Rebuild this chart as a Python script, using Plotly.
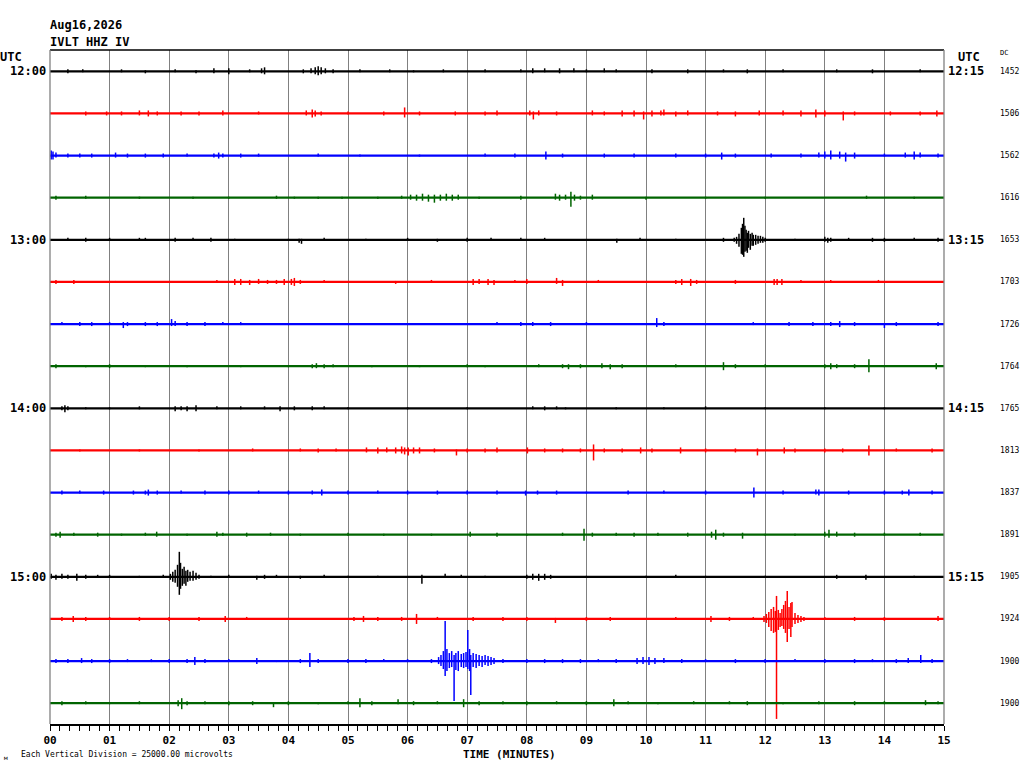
import plotly.graph_objects as go

# helicorder: 16 rows of 15 minutes, IVLT HHZ IV
row_colors = ["black", "red", "blue", "#006400"]
left_labels = {0: "12:00", 4: "13:00", 8: "14:00", 12: "15:00"}
right_labels = {0: "12:15", 4: "13:15", 8: "14:15", 12: "15:15"}
dc_values = [1452, 1506, 1562, 1616, 1653, 1703, 1726, 1764,
             1765, 1813, 1837, 1891, 1905, 1924, 1900, 1900]
tick_minutes = list(range(16))
tick_text = ["%02d" % m for m in tick_minutes]

# deflections per row: (minute, up, down), up/down in 1/42 of a vertical division
events = [
    [(0.3,2,2),(0.55,2,1),(1.2,2,1),(1.6,1,2),(2.1,2,1),(2.45,1,2),(2.75,3,2),(3.0,3,3),(3.35,2,1),
     (3.55,3,2),(3.6,4,3),(4.25,2,2),(4.38,3,2),(4.45,4,3),(4.5,5,4),(4.55,4,3),(4.62,3,2),(4.75,2,2),
     (5.2,2,1),(5.7,2,1),(6.1,1,1),(6.6,2,1),(7.3,2,1),(7.9,2,1),(8.1,3,2),(8.3,3,1),(8.55,3,2),
     (8.79,3,1),(9.0,2,1),(9.3,3,1),(9.5,2,1),(10.1,2,2),(10.7,2,2),(11.3,2,1),(11.7,2,2),(12.3,2,1),
     (13.2,2,1),(13.8,2,2),(14.6,2,1)],
    [(0.6,2,2),(0.95,2,2),(1.2,2,2),(1.5,3,2),(1.65,3,3),(1.8,2,2),(2.2,2,2),(2.5,2,2),(2.9,3,2),
     (3.5,2,1),(4.3,3,2),(4.4,4,4),(4.45,3,3),(4.55,2,2),(5.0,2,1),(5.6,2,2),(5.95,6,4),(6.2,2,2),
     (6.8,2,2),(7.3,2,2),(7.5,3,2),(8.05,3,2),(8.11,2,6),(8.2,3,2),(8.5,2,2),(9.1,3,2),(9.3,2,2),
     (9.6,3,3),(9.8,3,3),(9.96,2,6),(10.1,3,3),(10.25,3,2),(10.3,4,2),(10.5,2,3),(10.7,3,2),
     (11.2,2,2),(11.5,2,3),(11.9,3,2),(12.3,3,2),(12.6,3,3),(12.85,4,4),(13.0,3,3),(13.31,2,7),
     (13.5,2,2),(14.1,2,2),(14.6,2,2),(14.88,3,3)],
    [(0.02,5,4),(0.05,4,4),(0.1,3,2),(0.3,2,2),(0.5,2,2),(0.7,2,2),(1.1,3,2),(1.3,2,2),(1.6,2,2),
     (1.9,2,2),(2.3,2,1),(2.75,2,2),(2.83,3,3),(2.9,2,2),(3.2,2,2),(3.5,2,1),(4.5,2,1),(5.2,1,1),
     (6.2,1,1),(7.3,2,1),(7.8,2,2),(8.32,4,4),(8.6,2,2),(9.3,2,2),(9.8,2,2),(10.5,2,2),(11.0,2,2),
     (11.27,3,4),(11.5,2,2),(12.1,2,2),(12.6,2,2),(12.9,3,2),(13.0,4,3),(13.1,5,4),(13.25,4,3),
     (13.35,3,6),(13.5,3,3),(14.0,2,1),(14.35,3,2),(14.5,4,4),(14.6,3,2),(14.9,2,2)],
    [(0.1,2,2),(0.6,2,1),(1.5,1,1),(2.4,1,1),(3.0,1,1),(3.8,2,1),(4.1,1,1),(4.5,1,1),(4.9,1,1),
     (5.5,1,1),(5.9,2,1),(6.05,3,2),(6.15,3,3),(6.25,4,3),(6.35,3,4),(6.45,3,5),(6.55,3,3),(6.65,4,3),
     (6.75,3,3),(6.85,3,2),(7.2,1,1),(7.9,2,2),(8.48,4,2),(8.55,3,3),(8.65,3,2),(8.74,6,9),(8.8,3,3),
     (8.9,2,2),(9.1,3,2),(10.0,1,2),(11.0,1,1),(12.0,1,1),(13.7,2,1),(14.5,1,1)],
    [(0.3,2,1),(0.6,2,2),(1.0,2,1),(1.5,2,1),(1.6,2,1),(2.1,2,2),(2.4,2,1),(2.7,2,2),(3.1,1,1),
     (4.0,1,1),(4.18,1,3),(4.22,1,4),(4.6,2,1),(5.3,1,1),(6.0,2,1),(6.5,1,2),(7.0,2,2),(7.4,2,1),
     (7.9,2,1),(8.3,2,1),(9.51,1,3),(9.9,2,1),(10.5,1,1),(11.3,2,2),(11.48,2,2),(11.52,3,4),
     (11.56,6,7),(11.6,12,14),(11.62,16,15),(11.64,22,17),(11.66,14,12),(11.68,10,11),(11.7,7,13),
     (11.72,9,8),(11.75,6,10),(11.78,7,6),(11.8,5,6),(11.84,5,5),(11.88,4,4),(11.92,4,3),(11.96,3,3),
     (12.0,2,2),(12.5,1,1),(13.0,3,2),(13.05,2,3),(13.1,2,2),(13.4,2,1),(13.8,2,2),(14.0,2,2),
     (14.5,2,1),(14.9,2,2)],
    [(0.1,2,2),(0.4,2,2),(1.1,1,1),(2.0,1,1),(2.8,2,1),(3.1,3,3),(3.2,3,3),(3.35,2,3),(3.5,3,2),
     (3.65,2,2),(3.8,2,2),(3.93,3,3),(4.05,3,3),(4.1,4,4),(4.2,2,2),(4.6,2,1),(5.1,1,1),(5.8,1,2),
     (6.4,2,1),(7.1,3,3),(7.2,3,2),(7.35,3,3),(7.45,2,3),(7.8,2,1),(8.0,3,2),(8.5,4,2),(8.6,2,4),
     (9.2,2,1),(9.8,1,1),(10.5,2,2),(10.6,3,3),(10.75,3,4),(10.85,2,2),(11.5,2,2),(12.15,3,3),
     (12.2,3,3),(12.28,3,3),(12.6,2,1),(13.1,2,1),(13.9,2,1),(14.5,1,1)],
    [(0.2,2,1),(0.5,2,2),(0.7,2,2),(1.0,2,1),(1.23,2,4),(1.3,2,2),(1.6,2,2),(1.8,2,2),(2.04,5,2),
     (2.1,3,2),(2.3,2,2),(2.6,2,2),(2.9,2,1),(3.2,2,1),(4.0,1,1),(5.0,1,1),(6.0,1,1),(7.0,1,1),
     (7.5,2,1),(7.9,2,2),(8.1,2,2),(8.4,2,2),(9.0,2,1),(10.18,6,3),(10.3,2,2),(11.0,1,1),(11.8,2,1),
     (12.4,2,2),(12.8,2,2),(13.1,2,2),(13.25,3,3),(13.5,2,2),(14.0,1,4),(14.2,2,2),(14.9,2,2)],
    [(0.1,2,2),(0.6,1,1),(1.0,2,2),(1.6,1,1),(2.3,1,1),(3.2,1,1),(4.0,1,1),(4.4,2,2),(4.47,3,2),
     (4.6,2,2),(4.75,2,1),(5.4,1,1),(6.2,1,1),(7.0,2,1),(7.3,1,1),(8.2,2,1),(8.6,2,2),(8.7,2,3),
     (8.9,2,2),(9.26,3,2),(9.4,2,3),(9.6,2,2),(10.5,2,1),(11.3,4,4),(11.5,2,2),(12.0,2,1),(13.0,2,2),
     (13.1,3,3),(13.2,2,2),(13.5,2,2),(13.74,7,6),(14.0,1,1),(14.87,3,3)],
    [(0.2,2,2),(0.25,3,4),(0.3,2,2),(0.6,1,1),(1.0,1,1),(1.5,2,1),(2.1,2,3),(2.2,2,2),(2.3,2,3),
     (2.45,3,3),(2.8,2,1),(3.2,2,1),(3.6,2,1),(3.86,2,3),(4.1,2,2),(4.4,2,2),(4.6,2,1),(5.0,1,1),
     (6.0,1,1),(7.0,1,1),(8.1,2,1),(8.3,2,2),(8.5,2,1),(8.65,1,1),(9.5,1,1),(10.3,1,1),(11.0,2,1),
     (12.0,1,1),(13.0,1,1),(14.0,1,1)],
    [(0.5,1,1),(1.5,1,1),(2.5,1,1),(3.4,2,1),(4.2,2,1),(4.5,2,2),(4.8,2,1),(5.31,3,2),(5.5,3,3),
     (5.65,3,2),(5.8,3,3),(5.9,4,3),(5.95,3,4),(6.01,3,5),(6.1,3,3),(6.2,3,3),(6.45,2,2),(6.82,1,5),
     (7.0,2,2),(7.3,2,2),(7.5,3,2),(8.01,3,3),(8.3,2,2),(8.6,2,2),(8.9,2,2),(9.12,6,10),(9.3,2,2),
     (9.6,2,2),(9.91,3,3),(10.1,2,2),(10.58,3,3),(11.0,2,2),(11.5,2,2),(11.87,2,5),(12.32,3,3),
     (12.5,2,2),(13.0,2,2),(13.3,2,2),(13.74,5,5),(14.2,2,1),(14.8,2,2)],
    [(0.2,2,2),(0.5,2,1),(0.9,2,2),(1.4,2,2),(1.6,2,2),(1.65,3,3),(1.8,2,2),(2.2,2,1),(2.6,2,2),
     (3.0,2,2),(3.5,2,1),(4.0,2,2),(4.4,2,2),(4.56,3,3),(5.0,2,2),(5.5,2,1),(6.0,2,2),(6.5,2,2),
     (7.0,2,2),(7.5,2,2),(7.98,2,3),(8.18,2,2),(8.5,2,2),(9.0,1,1),(9.7,2,2),(10.3,2,1),(11.0,2,2),
     (11.81,5,5),(12.3,2,2),(12.85,3,2),(12.9,3,3),(13.4,2,2),(14.0,2,2),(14.3,2,2),(14.41,3,3),
     (14.8,2,2)],
    [(0.1,2,2),(0.17,3,3),(0.4,2,1),(0.8,2,2),(1.2,1,1),(1.6,2,1),(1.79,3,2),(2.3,1,1),(2.8,3,2),
     (2.9,2,1),(3.3,2,2),(3.7,2,1),(4.2,1,1),(5.0,2,1),(5.6,1,1),(6.4,1,1),(7.05,3,2),(7.5,2,2),
     (8.0,1,1),(8.6,2,1),(8.96,6,6),(9.1,2,2),(9.5,2,1),(9.8,2,2),(10.2,2,1),(10.7,2,2),(11.1,3,3),
     (11.17,5,5),(11.3,2,2),(11.62,2,4),(12.0,1,1),(12.5,1,1),(13.0,3,2),(13.07,5,3),(13.2,3,2),
     (13.5,2,2),(14.0,2,1),(14.6,2,1)],
    [(0.02,3,2),(0.1,2,3),(0.2,3,2),(0.3,2,2),(0.45,3,4),(0.6,2,2),(0.8,2,1),(1.0,2,1),(1.5,1,1),
     (1.9,2,1),(2.02,3,3),(2.06,5,5),(2.1,7,6),(2.14,12,10),(2.17,25,18),(2.19,14,12),(2.22,8,9),
     (2.25,10,7),(2.28,6,9),(2.31,7,5),(2.35,5,4),(2.4,6,4),(2.45,4,3),(2.5,2,2),(2.7,1,1),(3.0,2,1),
     (3.47,1,3),(3.6,2,2),(3.8,2,1),(4.2,1,2),(4.6,2,1),(5.0,1,1),(5.5,1,1),(6.24,2,7),(6.63,3,1),
     (6.9,2,1),(7.3,1,1),(8.0,2,2),(8.1,3,3),(8.2,3,4),(8.3,3,3),(8.4,2,2),(9.0,1,1),(10.0,1,1),
     (10.5,2,1),(11.0,1,1),(12.0,1,1),(13.2,2,2),(13.69,2,3),(14.5,1,1)],
    [(0.2,2,2),(0.39,3,3),(0.6,2,2),(1.0,2,1),(1.5,2,2),(2.0,2,2),(2.5,2,2),(2.94,3,3),(3.3,2,1),
     (4.0,1,1),(5.1,2,2),(5.26,3,3),(5.5,2,2),(5.9,2,2),(6.15,5,5),(6.5,2,1),(7.1,2,2),(7.6,2,2),
     (8.0,2,2),(8.48,1,4),(9.0,2,2),(9.4,2,2),(10.0,1,1),(10.5,2,1),(11.09,3,3),(11.4,2,2),
     (11.8,2,1),(11.98,3,3),(12.02,5,4),(12.06,7,8),(12.1,10,12),(12.14,12,14),(12.17,8,13),
     (12.19,23,100),(12.22,9,11),(12.25,6,8),(12.28,10,7),(12.31,14,10),(12.34,18,14),(12.37,28,23),
     (12.4,12,10),(12.43,16,18),(12.45,17,8),(12.5,6,5),(12.55,4,4),(12.6,3,3),(12.65,2,2),
     (13.0,2,1),(13.5,2,2),(14.0,2,2),(14.9,3,2)],
    [(0.1,2,2),(0.3,2,2),(0.53,3,2),(0.7,2,2),(1.0,2,2),(1.3,2,1),(1.7,2,1),(2.0,2,2),(2.3,2,2),
     (2.43,4,4),(2.6,2,2),(3.0,2,1),(3.47,3,3),(3.8,1,1),(4.2,2,2),(4.36,8,6),(4.5,2,2),(5.0,2,2),
     (5.3,2,2),(5.6,2,1),(6.0,2,1),(6.4,2,2),(6.52,4,3),(6.56,6,5),(6.6,10,8),(6.63,40,15),
     (6.66,12,10),(6.7,8,7),(6.74,10,6),(6.78,6,40),(6.81,8,9),(6.85,10,10),(6.9,7,6),(6.94,8,7),
     (6.98,9,6),(7.01,31,8),(7.04,12,10),(7.06,6,34),(7.1,8,6),(7.15,7,7),(7.2,6,5),(7.25,5,6),
     (7.3,6,4),(7.35,5,5),(7.4,4,4),(7.45,3,3),(7.6,2,2),(8.0,2,2),(8.3,2,2),(8.6,2,2),(8.9,2,2),
     (9.2,2,1),(9.5,2,2),(9.85,3,3),(9.95,4,3),(10.05,4,4),(10.15,3,3),(10.3,3,2),(10.6,2,2),
     (11.0,2,1),(11.5,2,2),(12.0,2,2),(12.5,2,1),(13.0,2,2),(13.5,2,2),(13.8,2,1),(14.2,2,2),
     (14.4,3,2),(14.61,6,2),(14.8,2,2)],
    [(0.2,2,2),(0.6,2,1),(1.0,1,1),(1.5,2,1),(2.15,3,3),(2.21,5,6),(2.3,2,2),(2.6,2,1),(3.0,2,2),
     (3.4,2,2),(3.75,1,4),(4.0,2,2),(4.5,1,1),(5.0,2,1),(5.2,5,4),(5.4,2,2),(5.84,4,1),(6.1,2,2),
     (6.5,2,1),(6.94,4,4),(7.2,2,2),(7.6,2,1),(8.0,2,2),(8.5,2,1),(9.0,2,2),(9.46,4,3),(9.7,2,1),
     (10.2,1,1),(10.8,2,1),(11.4,2,1),(11.7,2,2),(12.3,1,1),(12.9,2,1),(13.5,2,2),(14.0,2,1),
     (14.69,3,2),(14.9,2,1)],
]

AMP = 1 / 42.13   # one unit of deflection in vertical divisions
MONO = "DejaVu Sans Mono"

# plot area in pixels: x 50..944, y 50..724
L, R, T, B = 50, 944, 50, 724
def px(x):
    return (x - L) / (R - L)
def py(y):
    return (B - y) / (B - T)

fig = go.Figure()

for i, ev in enumerate(events):
    c = row_colors[i % 4]
    fig.add_trace(go.Scatter(x=[0, 15], y=[-i, -i], mode="lines",
                             line=dict(color=c, width=2.2), hoverinfo="skip"))
    fig.add_trace(go.Scatter(
        x=[e[0] for e in ev], y=[-i] * len(ev), mode="markers",
        marker=dict(size=1, color=c),
        error_y=dict(type="data", symmetric=False,
                     array=[e[1] * AMP for e in ev],
                     arrayminus=[e[2] * AMP for e in ev],
                     color=c, thickness=1.5, width=0),
        hoverinfo="skip"))

ann = []
for i, lab in left_labels.items():
    ann.append(dict(x=px(48), xref="paper", y=-i, yref="y", text="<b>%s</b>" % lab,
                    xanchor="right", yanchor="middle", showarrow=False,
                    font=dict(family=MONO, size=12)))
for i, lab in right_labels.items():
    ann.append(dict(x=px(946), xref="paper", y=-i, yref="y", text="<b>%s</b>" % lab,
                    xanchor="left", yanchor="middle", showarrow=False,
                    font=dict(family=MONO, size=12)))
for i, v in enumerate(dc_values):
    ann.append(dict(x=px(998), xref="paper", y=-i, yref="y", text=str(v),
                    xanchor="left", yanchor="middle", showarrow=False,
                    font=dict(family=MONO, size=8)))

def text_at(x, y, s, size, anchor="left", bold=True):
    ann.append(dict(x=px(x), xref="paper", y=py(y), yref="paper",
                    text="<b>%s</b>" % s if bold else s,
                    xanchor=anchor, yanchor="middle", showarrow=False,
                    font=dict(family=MONO, size=size)))

text_at(48, 25, "Aug16,2026", 12)
text_at(48, 42, "IVLT HHZ IV", 12)
text_at(-2, 57, "UTC", 12)
text_at(956, 57, "UTC", 12)
text_at(998, 53, "DC", 7, bold=False)
text_at(509, 754, "TIME (MINUTES)", 11, anchor="center")
text_at(19, 754, "Each Vertical Division = 25000.00 microvolts", 8, bold=False)
text_at(2, 757, "м", 6, bold=False)

fig.update_layout(
    width=1024, height=768,
    margin=dict(l=L, r=1024 - R, t=T, b=768 - B),
    paper_bgcolor="white", plot_bgcolor="white",
    showlegend=False,
    annotations=ann,
    shapes=[
        dict(type="line", xref="paper", yref="paper", x0=0, x1=1, y0=1, y1=1,
             line=dict(color="black", width=1.5)),
        dict(type="line", xref="paper", yref="paper", x0=1, x1=1, y0=0, y1=1,
             line=dict(color="#808080", width=1.3)),
        dict(type="line", xref="paper", yref="paper", x0=0, x1=0, y0=0, y1=1,
             line=dict(color="#808080", width=1.3)),
    ],
    xaxis=dict(range=[0, 15], tickvals=tick_minutes,
               ticktext=["<b>%s</b>" % t for t in tick_text],
               showgrid=True, gridcolor="#808080", gridwidth=1.3,
               zeroline=False, showline=True, linecolor="black", linewidth=1.5,
               ticks="outside", ticklen=5, tickcolor="black", tickwidth=1,
               ticklabelstandoff=0,
               tickfont=dict(family=MONO, size=11, color="black"),
               minor=dict(dtick=1 / 6, ticks="outside", ticklen=5,
                          tickcolor="black", showgrid=False)),
    yaxis=dict(range=[-15.494, 0.506], visible=False, showgrid=False, zeroline=False),
    font=dict(family=MONO, color="black"),
)

# the page body has a default 8px margin; drop it so the figure fills the window
fig.write_html("out.html", config={"displayModeBar": False},
               post_script="document.body.style.margin='0';")
